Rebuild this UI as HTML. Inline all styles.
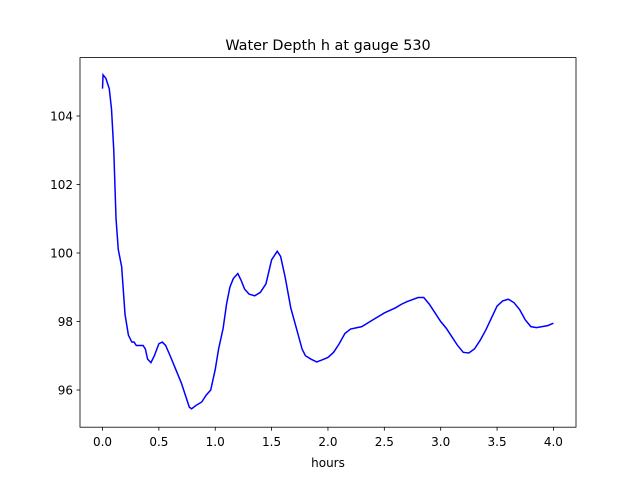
<!DOCTYPE html>
<html><head><meta charset="utf-8"><style>
body{margin:0;background:#fff;}
svg text{font-family:"DejaVu Sans","Liberation Sans",sans-serif;fill:#000;}
</style></head><body>
<svg id="chart" width="640" height="480" xmlns="http://www.w3.org/2000/svg">
<rect width="640" height="480" fill="#fff"/>
<text x="328" y="50" font-size="14.4" text-anchor="middle">Water Depth h at gauge 530</text>
<g id="plot"></g>
<rect x="80" y="57.6" width="496" height="369.6" fill="none" stroke="#000" stroke-width="0.8"/>
<g id="xt"></g><g id="yt"></g>
<text x="328" y="467" font-size="12" text-anchor="middle">hours</text>
</svg>
<script>
const hours=[0,0.005,0.03,0.06,0.08,0.1,0.12,0.14,0.17,0.2,0.23,0.26,0.28,0.3,0.33,0.36,0.38,0.4,0.43,0.46,0.5,0.53,0.56,0.6,0.65,0.7,0.74,0.77,0.79,0.83,0.88,0.92,0.96,1.0,1.03,1.07,1.1,1.13,1.16,1.2,1.23,1.26,1.3,1.35,1.4,1.45,1.5,1.55,1.58,1.62,1.67,1.72,1.77,1.8,1.85,1.9,1.95,2.0,2.05,2.1,2.15,2.2,2.3,2.4,2.5,2.6,2.65,2.7,2.8,2.85,2.9,2.95,3.0,3.05,3.1,3.15,3.2,3.25,3.3,3.35,3.4,3.45,3.5,3.55,3.6,3.65,3.7,3.75,3.8,3.85,3.9,3.95,4.0];
const depth=[104.8,105.2,105.1,104.8,104.2,103.0,101.0,100.1,99.6,98.2,97.6,97.4,97.4,97.3,97.3,97.3,97.2,96.9,96.8,97.0,97.35,97.4,97.3,97.0,96.6,96.2,95.8,95.5,95.45,95.55,95.65,95.85,96.0,96.6,97.2,97.8,98.5,99.0,99.25,99.4,99.2,98.95,98.8,98.75,98.85,99.1,99.8,100.05,99.9,99.3,98.4,97.8,97.2,97.0,96.9,96.82,96.88,96.95,97.1,97.35,97.65,97.78,97.85,98.05,98.25,98.4,98.5,98.58,98.7,98.7,98.5,98.25,98.0,97.8,97.55,97.3,97.1,97.08,97.2,97.45,97.75,98.1,98.45,98.6,98.65,98.55,98.35,98.05,97.85,97.82,97.85,97.88,97.95];
const xTicks=[0,0.5,1,1.5,2,2.5,3,3.5,4];
const xTickLabels=["0.0","0.5","1.0","1.5","2.0","2.5","3.0","3.5","4.0"];
const yTicks=[96,98,100,102,104];
const yTickLabels=["96","98","100","102","104"];
const NS="http://www.w3.org/2000/svg";
const X=v=>102.5+v*112.73;
const Y=v=>390-(v-96)*34.25;
const plot=document.getElementById('plot');
const line=document.createElementNS(NS,'polyline');


line.setAttribute('points',hours.map((h,i)=>X(h).toFixed(2)+','+Y(depth[i]).toFixed(2)).join(' '));
line.setAttribute('fill','none');line.setAttribute('stroke','#0000ff');line.setAttribute('stroke-width','1.5');
plot.appendChild(line);
const xt=document.getElementById('xt');
xTicks.forEach((t,i)=>{
 const l=document.createElementNS(NS,'line');
 
 
 l.setAttribute('x1',X(t));l.setAttribute('x2',X(t));l.setAttribute('y1',427.2);l.setAttribute('y2',430.7);l.setAttribute('stroke','#000');l.setAttribute('stroke-width','0.8');
 xt.appendChild(l);
 const s=document.createElementNS(NS,'text');
 
 
 s.setAttribute('x',X(t));s.setAttribute('y',446);s.setAttribute('font-size','12');s.setAttribute('text-anchor','middle');
 s.textContent=xTickLabels[i];xt.appendChild(s);
});
const yt=document.getElementById('yt');
yTicks.forEach((t,i)=>{
 const l=document.createElementNS(NS,'line');
 
 
 l.setAttribute('x1',76.5);l.setAttribute('x2',80);l.setAttribute('y1',Y(t));l.setAttribute('y2',Y(t));l.setAttribute('stroke','#000');l.setAttribute('stroke-width','0.8');
 yt.appendChild(l);
 const s=document.createElementNS(NS,'text');
 
 
 s.setAttribute('x',73);s.setAttribute('y',Y(t)+4.5);s.setAttribute('font-size','12');s.setAttribute('text-anchor','end');
 s.textContent=yTickLabels[i];yt.appendChild(s);
});
</script>
</body></html>
